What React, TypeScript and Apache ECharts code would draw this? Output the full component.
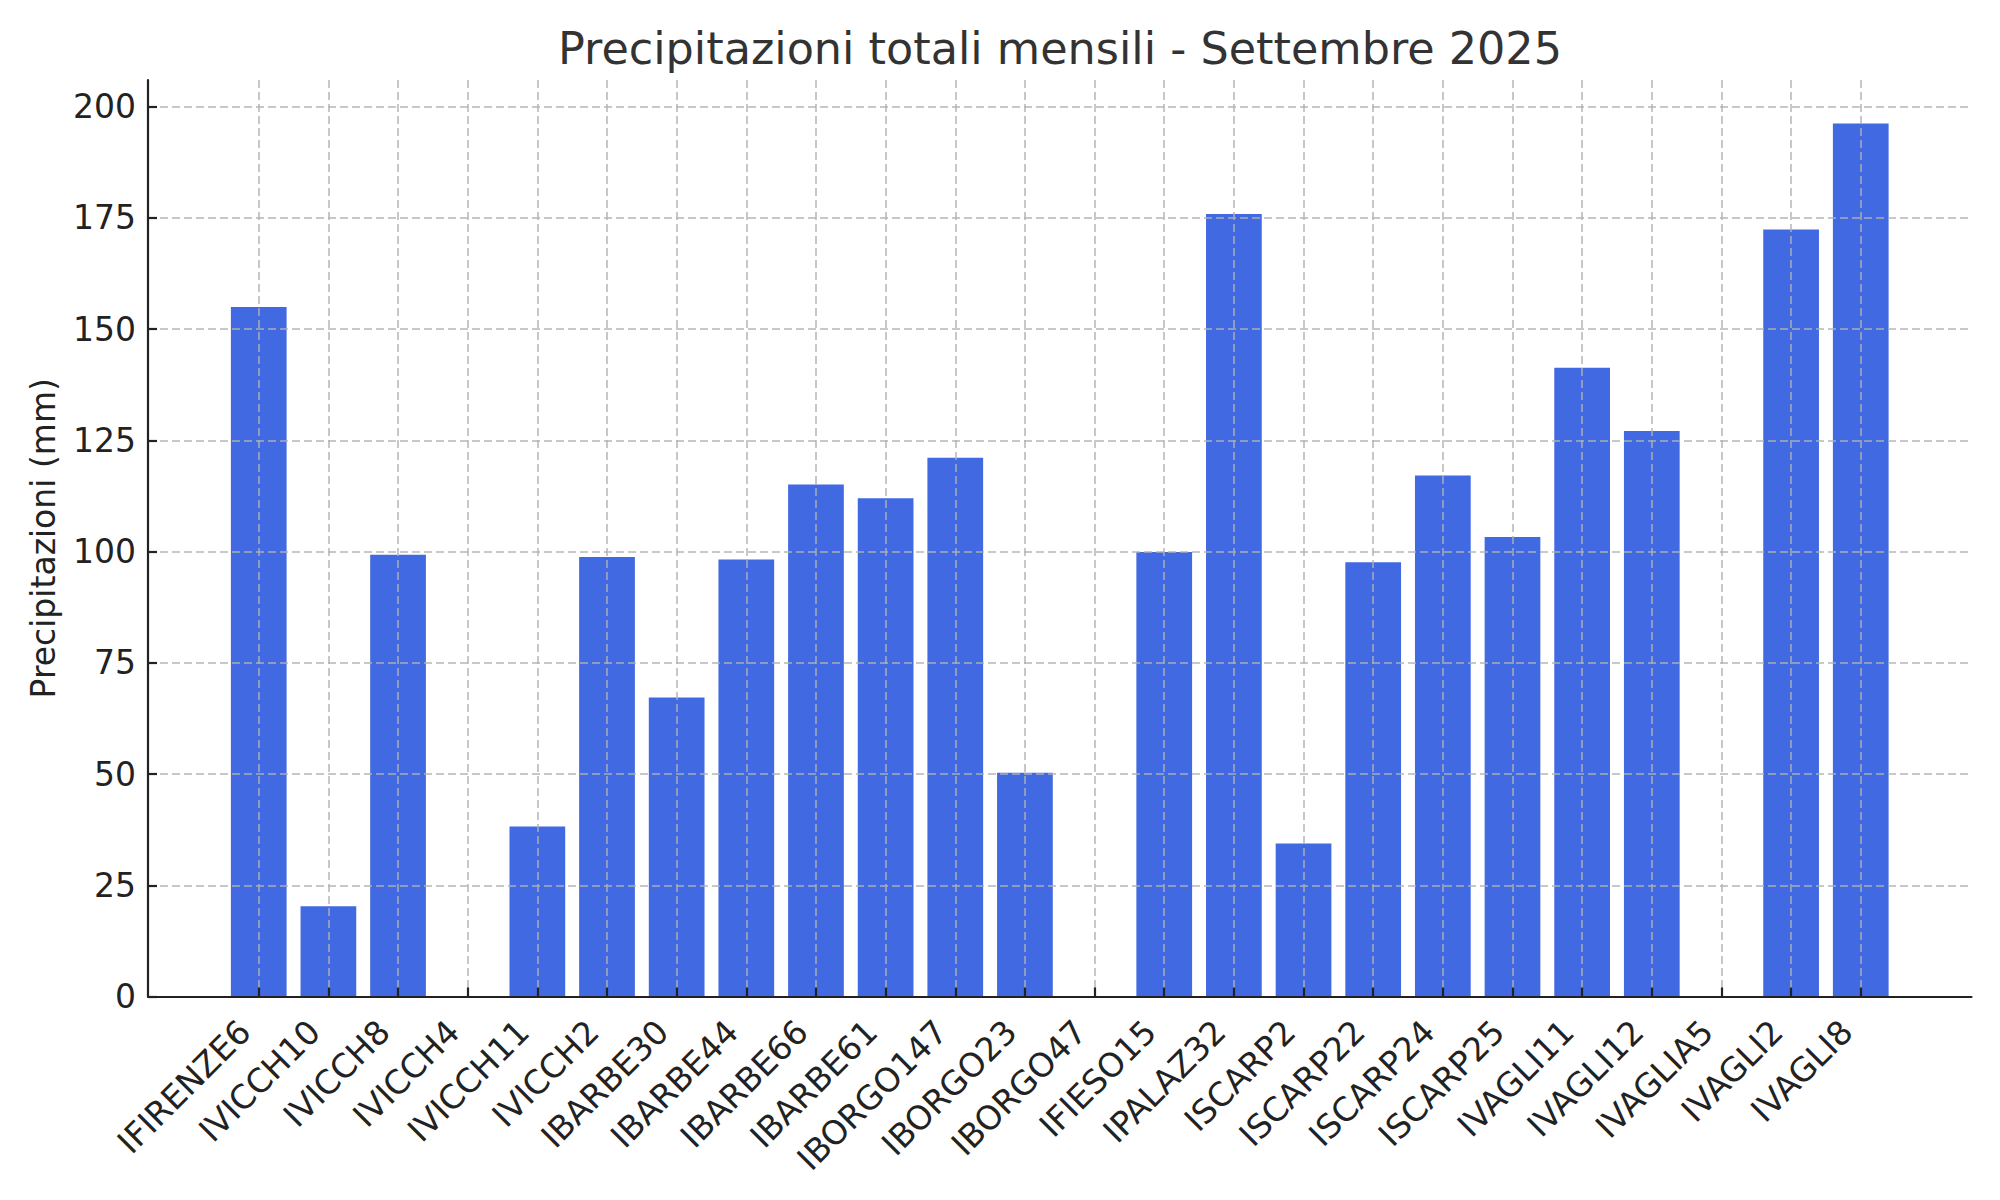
import { useEffect, useRef } from 'react';
import * as echarts from 'echarts';

// stazioni e pioggia cumulata di settembre 2025 (mm)
const stations = [
  'IFIRENZE6', 'IVICCH10', 'IVICCH8', 'IVICCH4', 'IVICCH11', 'IVICCH2',
  'IBARBE30', 'IBARBE44', 'IBARBE66', 'IBARBE61', 'IBORGO147', 'IBORGO23',
  'IBORGO47', 'IFIESO15', 'IPALAZ32', 'ISCARP2', 'ISCARP22', 'ISCARP24',
  'ISCARP25', 'IVAGLI11', 'IVAGLI12', 'IVAGLIA5', 'IVAGLI2', 'IVAGLI8',
];

const rainfall = [
  155.0, 20.3, 99.3, 0, 38.2, 98.8,
  67.2, 98.2, 115.1, 112.0, 121.1, 50.3,
  0, 99.9, 175.9, 34.4, 97.6, 117.1,
  103.3, 141.3, 127.1, 0, 172.4, 196.2,
];

const yTicks = [0, 25, 50, 75, 100, 125, 150, 175, 200];

const FONT = 'DejaVu Sans';
const gridLine = { color: 'rgba(176,176,176,0.7)', width: 2, type: [8, 4] as number[] };

const App = () => {
  const divRef = useRef<HTMLDivElement | null>(null);

  useEffect(() => {
    document.body.style.margin = '0';
    if (!divRef.current) return;

    const xTicks = stations.map((_, i) => i);
    const chart = echarts.init(divRef.current, undefined, { renderer: 'svg' });

    chart.setOption({
      animation: false,
      backgroundColor: '#ffffff',
      title: {
        text: 'Precipitazioni totali mensili - Settembre 2025',
        left: 1060,
        top: 26,
        textAlign: 'center',
        padding: 0,
        textStyle: { fontFamily: FONT, fontSize: 44.5, fontWeight: 'normal', color: '#333333' },
      },
      grid: {
        left: 148,
        right: 28.5,
        top: 80,
        bottom: 203.5,
        containLabel: false,
        outerBoundsMode: 'none',
      },
      xAxis: {
        type: 'value',
        min: -1.59,
        max: 24.59,
        z: 3,
        axisLine: { show: true, onZero: false, lineStyle: { color: '#222222', width: 2.2 } },
        axisTick: {
          show: true,
          inside: true,
          length: 9,
          customValues: xTicks,
          lineStyle: { color: '#222222', width: 2.2 },
        },
        axisLabel: {
          customValues: xTicks,
          rotate: 45,
          margin: 15.5,
          padding: [0, 20, 10, 0],
          fontFamily: FONT,
          fontSize: 33,
          color: '#222222',
          formatter: (v: number) => stations[Math.round(v)] ?? '',
        },
        splitLine: { show: true, lineStyle: gridLine },
      },
      yAxis: {
        type: 'value',
        min: 0,
        max: 206,
        z: 3,
        name: 'Precipitazioni (mm)',
        nameLocation: 'middle',
        nameRotate: 90,
        nameGap: 88,
        nameTextStyle: { fontFamily: FONT, fontSize: 33, color: '#222222' },
        axisLine: { show: true, onZero: false, lineStyle: { color: '#222222', width: 2.2 } },
        axisTick: {
          show: true,
          inside: true,
          length: 9,
          customValues: yTicks,
          lineStyle: { color: '#222222', width: 2.2 },
        },
        axisLabel: {
          customValues: yTicks,
          margin: 12,
          fontFamily: FONT,
          fontSize: 33,
          color: '#222222',
        },
        splitLine: { show: true, lineStyle: gridLine },
      },
      series: [
        {
          type: 'bar',
          data: rainfall.map((v, i) => [i, v]),
          barWidth: '80%',
          itemStyle: { color: '#4169E1' },
        },
      ],
    });

    return () => chart.dispose();
  }, []);

  return <div ref={divRef} style={{ width: 2000, height: 1200 }} />;
};

export default App;
